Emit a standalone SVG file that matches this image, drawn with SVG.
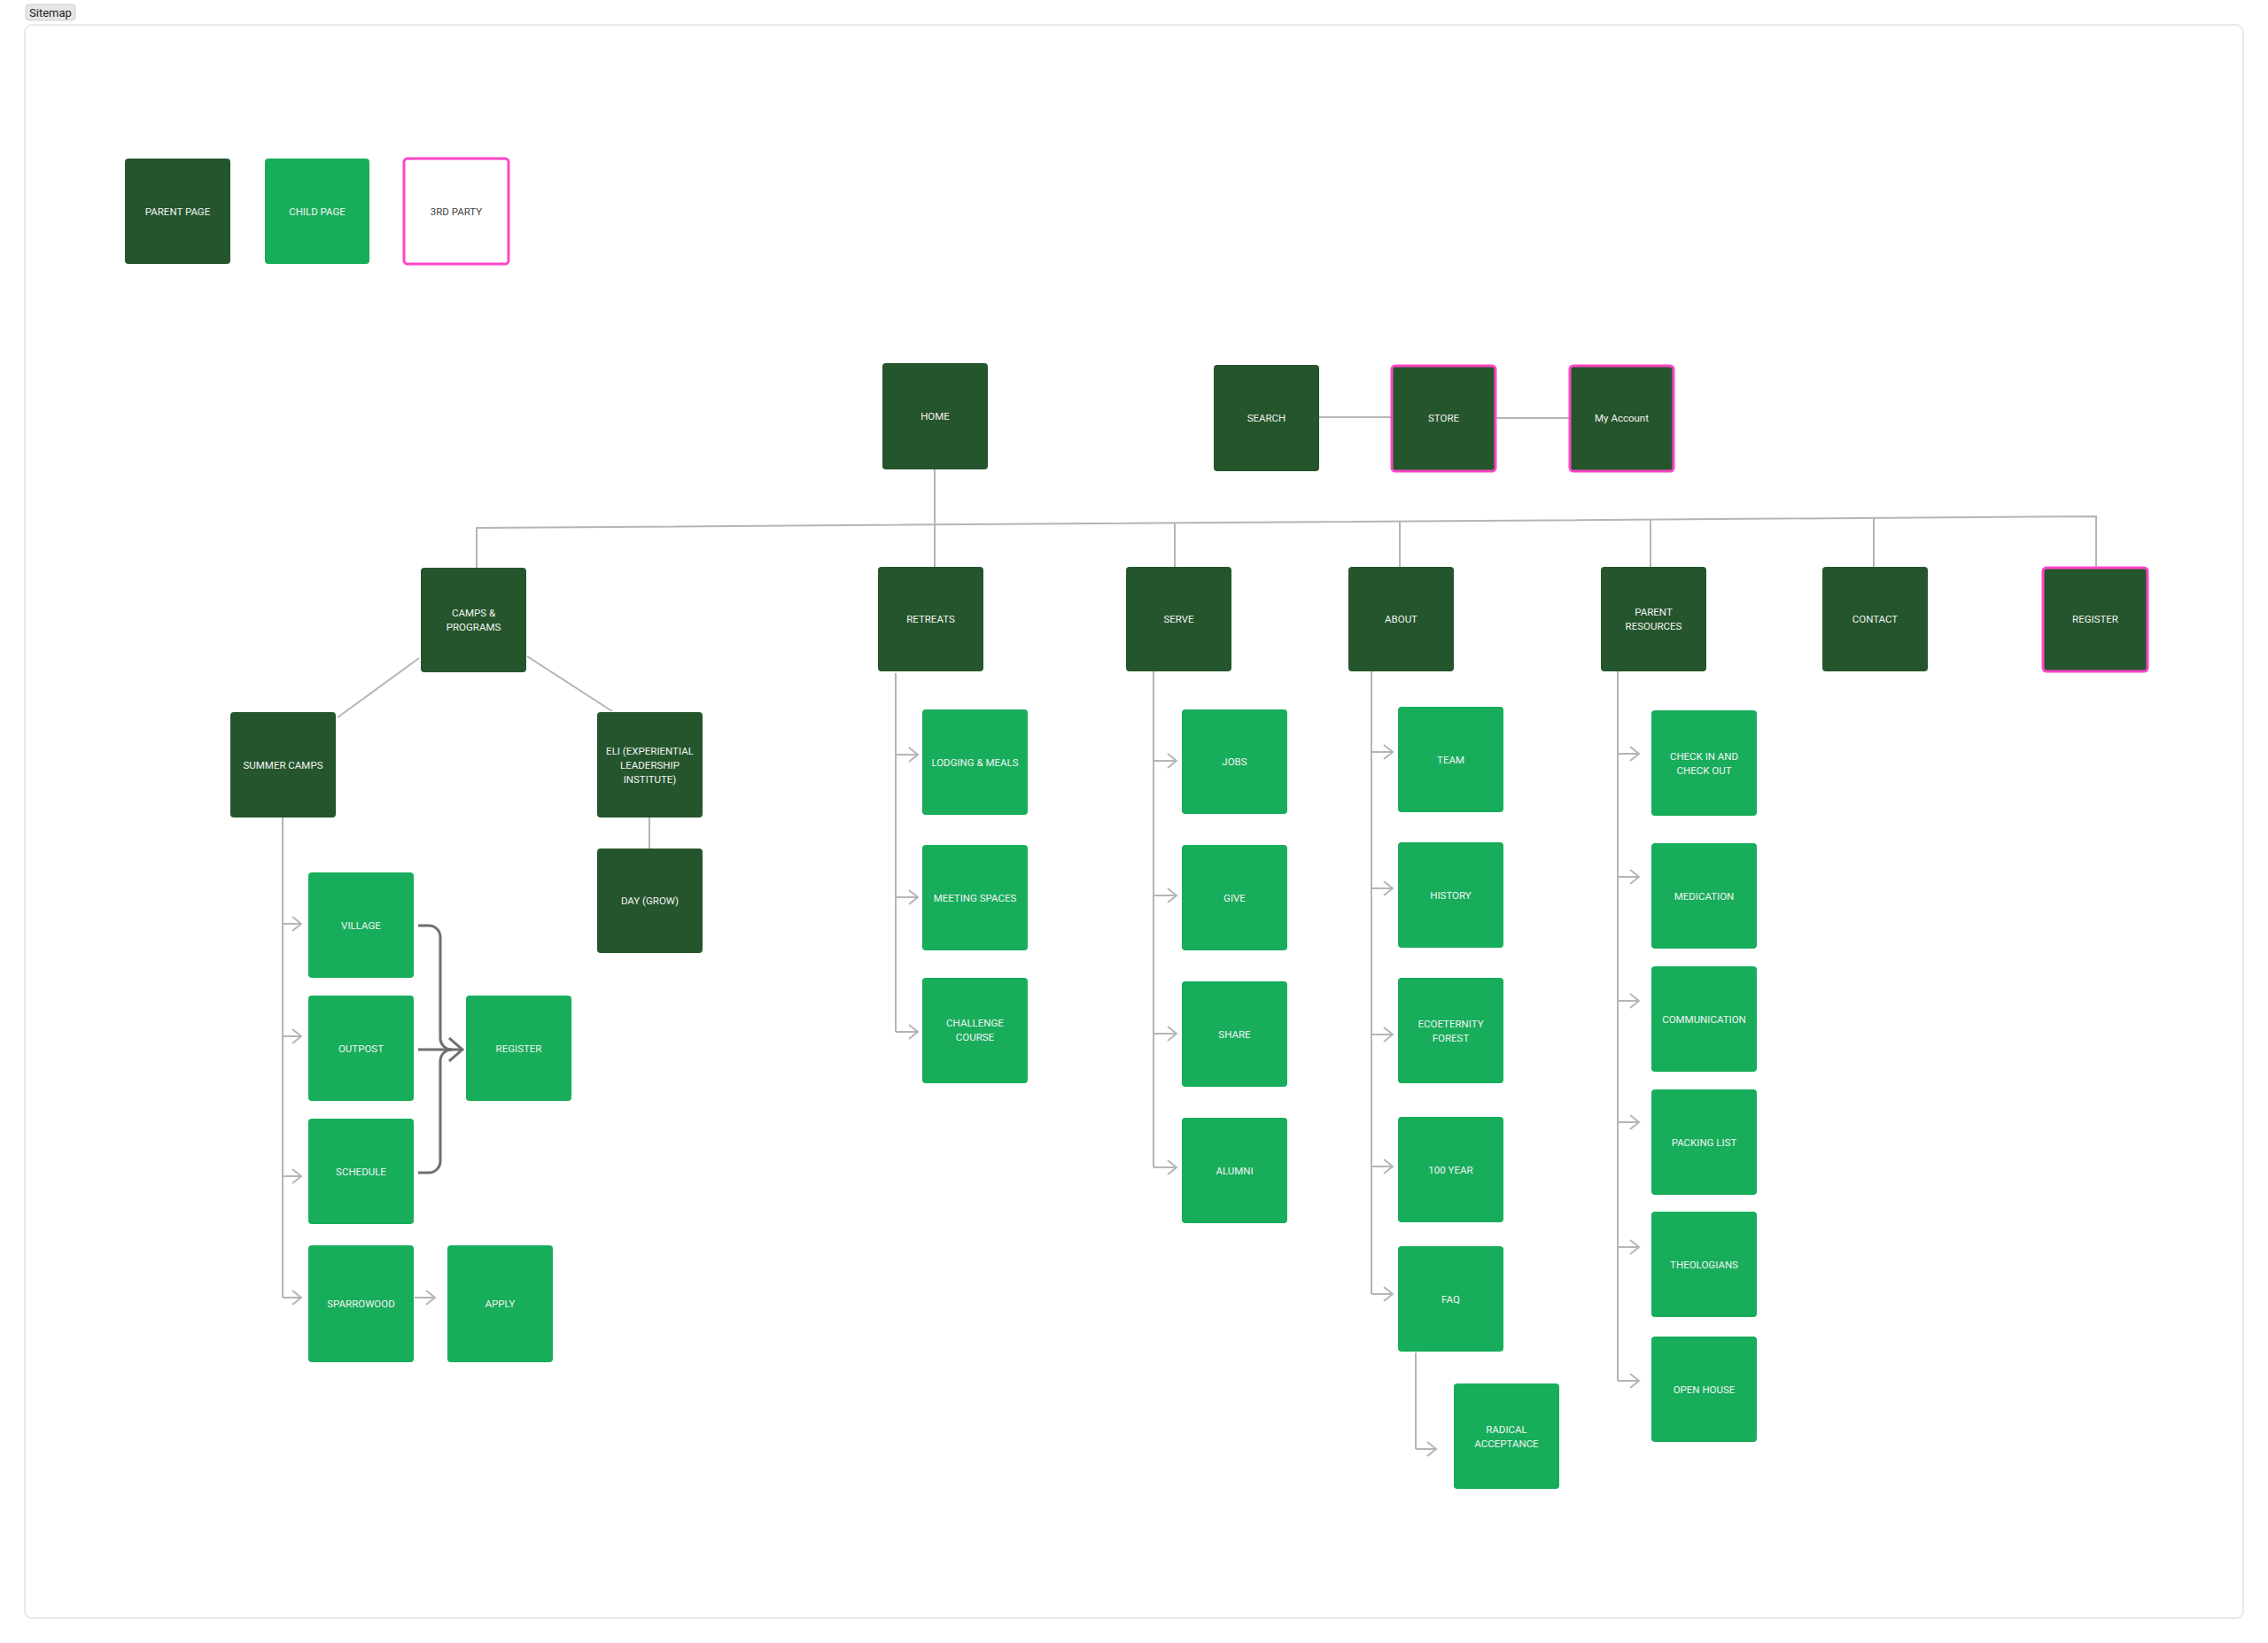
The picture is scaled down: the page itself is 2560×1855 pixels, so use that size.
<svg xmlns="http://www.w3.org/2000/svg" width="2560" height="1855" viewBox="0 0 2560 1855">
<defs>
<style>
.p{fill:#25552c}
.c{fill:#17ad5b}
.w{fill:#ffffff}
.pk{stroke:#ff45c8;stroke-width:3}
.t{font-family:Roboto,"Liberation Sans",sans-serif;font-size:11.5px;fill:#f3f3f3;text-anchor:middle;dominant-baseline:central}
.td{fill:#444444}
.ln{fill:none;stroke:#b5b5b5;stroke-width:2}
.ar{fill:none;stroke:#b5b5b5;stroke-width:2;marker-end:url(#ah)}
.br{fill:none;stroke:#6f6f6f;stroke-width:3}
</style>
<marker id="ah" markerUnits="userSpaceOnUse" markerWidth="16" markerHeight="20" refX="12" refY="10" orient="auto">
<path d="M2,2 L12,10 L2,18" fill="none" stroke="#b5b5b5" stroke-width="2"/>
</marker>
<marker id="ahd" markerUnits="userSpaceOnUse" markerWidth="22" markerHeight="30" refX="17" refY="15" orient="auto">
<path d="M2,2 L17,15 L2,28" fill="none" stroke="#6f6f6f" stroke-width="3"/>
</marker>
</defs>
<rect width="2560" height="1855" fill="#ffffff"/>
<rect x="28" y="28" width="2504" height="1799" rx="8" fill="none" stroke="#e9e9e9" stroke-width="2"/>
<g id="tag">
<rect x="29" y="5" width="56" height="18" rx="4" fill="#e6e6e6" stroke="#cfcfcf" stroke-width="1"/>
<text x="57" y="14.5" class="t" style="fill:#222;font-size:13px">Sitemap</text>
</g>

<g id="connectors">
<path class="ln" d="M538,641 V596 L2366,583 V640"/>
<path class="ln" d="M1055,530 V640"/>
<path class="ln" d="M1326,590.4 V640"/>
<path class="ln" d="M1580,588.6 V640"/>
<path class="ln" d="M1863,586.6 V640"/>
<path class="ln" d="M2115,584.8 V640"/>
<path class="ln" d="M1489,471 H1570"/>
<path class="ln" d="M1689,472 H1771"/>
<path class="ln" d="M381,810 L473,743"/>
<path class="ln" d="M595,741 L691,803"/>
<path class="ln" d="M733,923 V958"/>
<path class="ln" d="M319,923 V1465"/>
<path class="ar" d="M319,1043 H340"/>
<path class="ar" d="M319,1170 H340"/>
<path class="ar" d="M319,1328 H340"/>
<path class="ar" d="M319,1465 H340"/>
<path class="ar" d="M468,1465 H491"/>
<path class="br" d="M472,1045 H484 A13,13 0 0 1 497,1058 V1172 A13,13 0 0 0 510,1185"/>
<path class="br" d="M472,1324 H484 A13,13 0 0 0 497,1311 V1198 A13,13 0 0 1 510,1185"/>
<path class="br" d="M472,1185 H522" marker-end="url(#ahd)"/>
<path class="ln" d="M1011,760 V1165"/>
<path class="ar" d="M1011,852 H1036"/>
<path class="ar" d="M1011,1013 H1036"/>
<path class="ar" d="M1011,1165 H1036"/>
<path class="ln" d="M1302,758 V1318"/>
<path class="ar" d="M1302,859 H1328"/>
<path class="ar" d="M1302,1011 H1328"/>
<path class="ar" d="M1302,1167 H1328"/>
<path class="ar" d="M1302,1318 H1328"/>
<path class="ln" d="M1548,758 V1461"/>
<path class="ar" d="M1548,849 H1572"/>
<path class="ar" d="M1548,1003 H1572"/>
<path class="ar" d="M1548,1168 H1572"/>
<path class="ar" d="M1548,1317 H1572"/>
<path class="ar" d="M1548,1461 H1572"/>
<path class="ln" d="M1598,1527 V1636"/>
<path class="ar" d="M1598,1636 H1621"/>
<path class="ln" d="M1826,758 V1559"/>
<path class="ar" d="M1826,851 H1850"/>
<path class="ar" d="M1826,990 H1850"/>
<path class="ar" d="M1826,1130 H1850"/>
<path class="ar" d="M1826,1267 H1850"/>
<path class="ar" d="M1826,1408 H1850"/>
<path class="ar" d="M1826,1559 H1850"/>
</g>

<g id="legend-parent"><rect class="p" x="141" y="179" width="119" height="119" rx="4"/><text class="t" x="200.5" y="238.5">PARENT PAGE</text></g>
<g id="legend-child"><rect class="c" x="299" y="179" width="118" height="119" rx="4"/><text class="t" x="358" y="238.5">CHILD PAGE</text></g>
<g id="legend-3rd"><rect class="w pk" x="456" y="179" width="118" height="119" rx="4"/><text class="t td" x="515" y="238.5">3RD PARTY</text></g>

<g id="home"><rect class="p" x="996" y="410" width="119" height="120" rx="4"/><text class="t" x="1055.5" y="470">HOME</text></g>
<g id="search"><rect class="p" x="1370" y="412" width="119" height="120" rx="4"/><text class="t" x="1429.5" y="472">SEARCH</text></g>
<g id="store"><rect class="p pk" x="1571" y="413" width="117" height="119" rx="4"/><text class="t" x="1629.5" y="472">STORE</text></g>
<g id="my-account"><rect class="p pk" x="1772" y="413" width="117" height="119" rx="4"/><text class="t" x="1830.5" y="472">My Account</text></g>

<g id="camps"><rect class="p" x="475" y="641" width="119" height="118" rx="4"/><text class="t" x="534.5" y="692">CAMPS &amp;</text><text class="t" x="534.5" y="708">PROGRAMS</text></g>
<g id="retreats"><rect class="p" x="991" y="640" width="119" height="118" rx="4"/><text class="t" x="1050.5" y="699">RETREATS</text></g>
<g id="serve"><rect class="p" x="1271" y="640" width="119" height="118" rx="4"/><text class="t" x="1330.5" y="699">SERVE</text></g>
<g id="about"><rect class="p" x="1522" y="640" width="119" height="118" rx="4"/><text class="t" x="1581.5" y="699">ABOUT</text></g>
<g id="parent-resources"><rect class="p" x="1807" y="640" width="119" height="118" rx="4"/><text class="t" x="1866.5" y="691">PARENT</text><text class="t" x="1866.5" y="707">RESOURCES</text></g>
<g id="contact"><rect class="p" x="2057" y="640" width="119" height="118" rx="4"/><text class="t" x="2116.5" y="699">CONTACT</text></g>
<g id="register-top"><rect class="p pk" x="2306" y="641" width="118" height="117" rx="4"/><text class="t" x="2365" y="699">REGISTER</text></g>

<g id="summer-camps"><rect class="p" x="260" y="804" width="119" height="119" rx="4"/><text class="t" x="319.5" y="863.5">SUMMER CAMPS</text></g>
<g id="eli"><rect class="p" x="674" y="804" width="119" height="119" rx="4"/><text class="t" x="733.5" y="848">ELI (EXPERIENTIAL</text><text class="t" x="733.5" y="864">LEADERSHIP</text><text class="t" x="733.5" y="880">INSTITUTE)</text></g>
<g id="day-grow"><rect class="p" x="674" y="958" width="119" height="118" rx="4"/><text class="t" x="733.5" y="1017">DAY (GROW)</text></g>

<g id="village"><rect class="c" x="348" y="985" width="119" height="119" rx="4"/><text class="t" x="407.5" y="1044.5">VILLAGE</text></g>
<g id="outpost"><rect class="c" x="348" y="1124" width="119" height="119" rx="4"/><text class="t" x="407.5" y="1184">OUTPOST</text></g>
<g id="schedule"><rect class="c" x="348" y="1263" width="119" height="119" rx="4"/><text class="t" x="407.5" y="1323">SCHEDULE</text></g>
<g id="sparrowood"><rect class="c" x="348" y="1406" width="119" height="132" rx="4"/><text class="t" x="407.5" y="1472">SPARROWOOD</text></g>
<g id="register-camps"><rect class="c" x="526" y="1124" width="119" height="119" rx="4"/><text class="t" x="585.5" y="1184">REGISTER</text></g>
<g id="apply"><rect class="c" x="505" y="1406" width="119" height="132" rx="4"/><text class="t" x="564.5" y="1472">APPLY</text></g>

<g id="lodging"><rect class="c" x="1041" y="801" width="119" height="119" rx="4"/><text class="t" x="1100.5" y="860.5">LODGING &amp; MEALS</text></g>
<g id="meeting"><rect class="c" x="1041" y="954" width="119" height="119" rx="4"/><text class="t" x="1100.5" y="1013.5">MEETING SPACES</text></g>
<g id="challenge"><rect class="c" x="1041" y="1104" width="119" height="119" rx="4"/><text class="t" x="1100.5" y="1155">CHALLENGE</text><text class="t" x="1100.5" y="1171">COURSE</text></g>

<g id="jobs"><rect class="c" x="1334" y="801" width="119" height="118" rx="4"/><text class="t" x="1393.5" y="860">JOBS</text></g>
<g id="give"><rect class="c" x="1334" y="954" width="119" height="119" rx="4"/><text class="t" x="1393.5" y="1013.5">GIVE</text></g>
<g id="share"><rect class="c" x="1334" y="1108" width="119" height="119" rx="4"/><text class="t" x="1393.5" y="1167.5">SHARE</text></g>
<g id="alumni"><rect class="c" x="1334" y="1262" width="119" height="119" rx="4"/><text class="t" x="1393.5" y="1321.5">ALUMNI</text></g>

<g id="team"><rect class="c" x="1578" y="798" width="119" height="119" rx="4"/><text class="t" x="1637.5" y="857.5">TEAM</text></g>
<g id="history"><rect class="c" x="1578" y="951" width="119" height="119" rx="4"/><text class="t" x="1637.5" y="1010.5">HISTORY</text></g>
<g id="ecoeternity"><rect class="c" x="1578" y="1104" width="119" height="119" rx="4"/><text class="t" x="1637.5" y="1155.5">ECOETERNITY</text><text class="t" x="1637.5" y="1171.5">FOREST</text></g>
<g id="year100"><rect class="c" x="1578" y="1261" width="119" height="119" rx="4"/><text class="t" x="1637.5" y="1320.5">100 YEAR</text></g>
<g id="faq"><rect class="c" x="1578" y="1407" width="119" height="119" rx="4"/><text class="t" x="1637.5" y="1466.5">FAQ</text></g>
<g id="radical"><rect class="c" x="1641" y="1562" width="119" height="119" rx="4"/><text class="t" x="1700.5" y="1613.5">RADICAL</text><text class="t" x="1700.5" y="1629.5">ACCEPTANCE</text></g>

<g id="checkin"><rect class="c" x="1864" y="802" width="119" height="119" rx="4"/><text class="t" x="1923.5" y="853.5">CHECK IN AND</text><text class="t" x="1923.5" y="869.5">CHECK OUT</text></g>
<g id="medication"><rect class="c" x="1864" y="952" width="119" height="119" rx="4"/><text class="t" x="1923.5" y="1011.5">MEDICATION</text></g>
<g id="communication"><rect class="c" x="1864" y="1091" width="119" height="119" rx="4"/><text class="t" x="1923.5" y="1150.5">COMMUNICATION</text></g>
<g id="packing"><rect class="c" x="1864" y="1230" width="119" height="119" rx="4"/><text class="t" x="1923.5" y="1289.5">PACKING LIST</text></g>
<g id="theologians"><rect class="c" x="1864" y="1368" width="119" height="119" rx="4"/><text class="t" x="1923.5" y="1427.5">THEOLOGIANS</text></g>
<g id="openhouse"><rect class="c" x="1864" y="1509" width="119" height="119" rx="4"/><text class="t" x="1923.5" y="1568.5">OPEN HOUSE</text></g>
</svg>
